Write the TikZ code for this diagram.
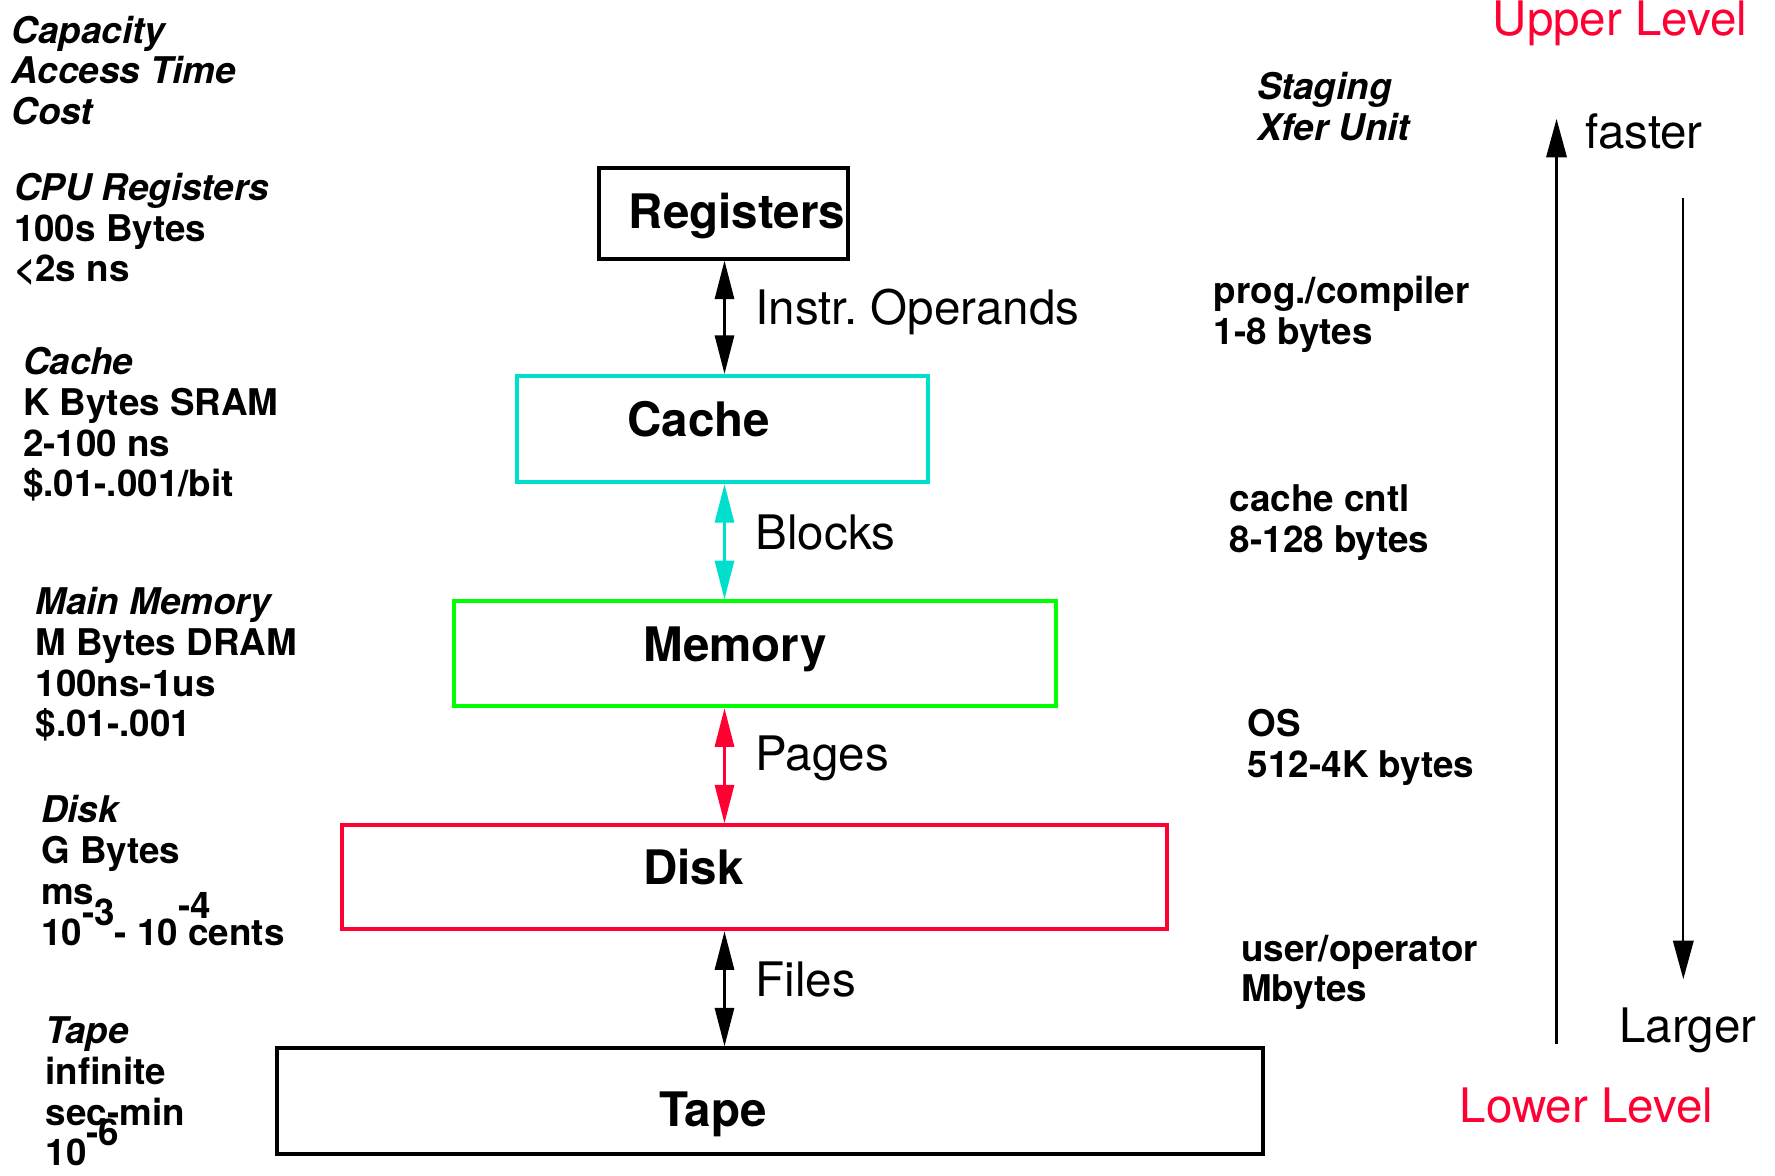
\documentclass[tikz,border=0pt]{standalone}
\usepackage{fontspec}
\setmainfont{TeX Gyre Heros}
\usetikzlibrary{arrows.meta}
\definecolor{cachecyan}{RGB}{0,222,206}
\definecolor{memgreen}{RGB}{0,255,0}
\definecolor{diskred}{RGB}{255,0,51}
% raised exponent that takes no vertical room
\newcommand\rexp[2]{\smash{\raisebox{#1}{#2}}}
\frenchspacing

\begin{document}
\begin{tikzpicture}[x=0.5pt,y=-0.5pt,
  big/.style={font=\fontsize{21pt}{25pt}\selectfont, inner sep=0pt, anchor=base west},
  boxlabel/.style={font=\fontsize{21pt}{25pt}\selectfont\bfseries, inner sep=0pt, anchor=base west},
  small/.style={font=\fontsize{16.25pt}{18pt}\selectfont\bfseries, inner sep=0pt, anchor=base west, align=left},
  level/.style={draw, line width=1.75pt, inner sep=0pt, fill=none},
  link/.style={line width=1pt, {Triangle[length=17pt,width=8.5pt]}-{Triangle[length=17pt,width=8.5pt]}},
  trend/.style={line width=1pt, -{Triangle[length=17pt,width=9pt]}},
]
\useasboundingbox (0,0) rectangle (1568,1038);

% hierarchy levels
\node[level, minimum width=110pt, minimum height=40pt] (reg) at (639,188.5) {};
\node[level, draw=cachecyan, minimum width=181.5pt, minimum height=47pt] (cache) at (638.5,379) {};
\node[level, draw=memgreen, minimum width=266pt, minimum height=46.5pt] (mem) at (667,577.5) {};
\node[level, draw=diskred, minimum width=364.5pt, minimum height=46pt] (disk) at (666.5,775) {};
\node[level, minimum width=435.5pt, minimum height=46.5pt] (tape) at (680.5,972.5) {};

\node[boxlabel] (regtxt) at (555,202) {Registers};
\node[boxlabel] (cachetxt) at (554,386) {Cache};
\node[boxlabel] (memtxt) at (568,584) {Memory};
\node[boxlabel] (disktxt) at (568,781) {Disk};
\node[boxlabel] (tapetxt) at (582,995) {Tape};

% transfers between levels
\coordinate (col) at (640,0);
\draw[link] (col |- reg.south) -- (col |- cache.north);
\draw[link, cachecyan] (col |- cache.south) -- (col |- mem.north);
\draw[link, diskred] (col |- mem.south) -- (col |- disk.north);
\draw[link] (col |- disk.south) -- (col |- tape.north);

\node[big] (l1) at (667,287) {Instr. Operands};
\node[big] (l2) at (667,485) {Blocks};
\node[big] (l3) at (667,681) {Pages};
\node[big] (l4) at (667,880) {Files};

% left column: capacity, access time, cost (anchored at the last line)
\node[small] (hdr) at (10,110) {\itshape Capacity\\\itshape Access Time\\\itshape Cost};
\node[small] (cpu) at (12,249) {{\itshape CPU Registers}\\100s Bytes\\\textless 2s ns};
\node[small] (cinfo) at (20,439) {{\itshape Cache}\\K Bytes SRAM\\2-100 ns\\\$.01-.001/bit};
\node[small] (minfo) at (31,651) {{\itshape Main Memory}\\M Bytes DRAM\\100ns-1us\\\$.01-.001};
\node[small] (dinfo) at (36,835) {{\itshape Disk}\\G Bytes\\ms\\10\rexp{0.55em}{-3}- 10\rlap{\rexp{0.72em}{-4}} cents};
\node[small] (tinfo) at (40,1030) {{\itshape Tape}\\infinite\\sec-min\\10\rexp{0.55em}{-6}};

% staging / transfer unit column
\node[small] (stg) at (1110,124) {\itshape Staging\\\itshape Xfer Unit};
\node[small] (s1) at (1072,304) {prog./compiler\\1-8 bytes};
\node[small] (s2) at (1086,488) {cache cntl\\8-128 bytes};
\node[small] (s3) at (1102,687) {OS\\512-4K bytes};
\node[small] (s4) at (1096,885) {user/operator\\Mbytes};

% speed / size trends
\node[big, text=diskred] (upper) at (1318,31) {Upper Level};
\node[big, text=diskred] (lower) at (1289,992) {Lower Level};
\node[big] (fast) at (1400,131) {faster};
\node[big] (large) at (1430,921) {Larger};

\coordinate (upbot) at (1375,922);
\coordinate (uptop) at (1375,105);
\coordinate (dntop) at (1487,175);
\coordinate (dnbot) at (1487,865);
\draw[trend] (upbot) -- (uptop);
\draw[trend] (dntop) -- (dnbot);
\end{tikzpicture}
\end{document}
